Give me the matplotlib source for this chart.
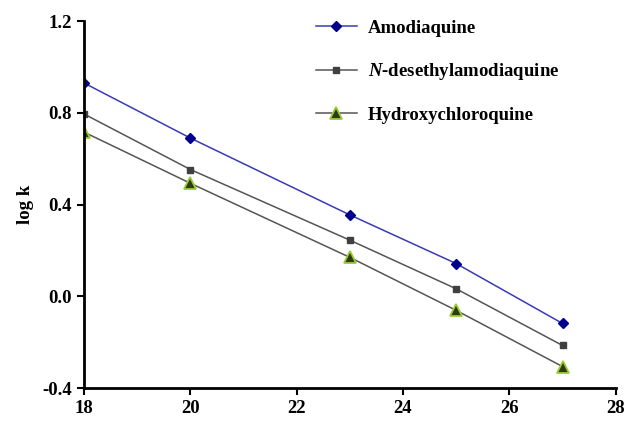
import numpy as np
import matplotlib.pyplot as plt

plt.rcParams['font.family'] = ['Liberation Serif', 'DejaVu Serif']
plt.rcParams['font.weight'] = 'bold'
plt.rcParams['mathtext.fontset'] = 'custom'
plt.rcParams['mathtext.it'] = 'Liberation Serif:italic:bold'
plt.rcParams['mathtext.rm'] = 'Liberation Serif:bold'

## data
temp = [18, 20, 23, 25, 27]
amodiaquine = [0.93, 0.69, 0.355, 0.143, -0.118]
desethyl = [0.795, 0.553, 0.245, 0.033, -0.214]
hydroxy = [0.716, 0.493, 0.17, -0.061, -0.306]

labels = ["Amodiaquine", r"$\it{N}$-desethylamodiaquine", "Hydroxychloroquine"]

fig = plt.figure(figsize=(6.27, 4.21), dpi=100)
ax = fig.add_axes([0.134, 0.078, 0.848, 0.872])

ax.plot(temp, amodiaquine, color="#3a3ab8", lw=1.1, marker="D", ms=5,
        mfc="#00008b", mec="#00008b", label=labels[0])
ax.plot(temp, desethyl, color="#555555", lw=1.1, marker="s", ms=5,
        mfc="#404040", mec="#404040", label=labels[1])
ax.plot(temp, hydroxy, color="#555555", lw=1.1, marker="^", ms=8,
        mfc="#2f3a1a", mec="#9acd32", mew=1.3, label=labels[2])

ax.set_xlim(18, 28)
ax.set_ylim(-0.4, 1.2)
ax.set_xticks([18, 20, 22, 24, 26, 28])
ax.set_yticks([-0.4, 0.0, 0.4, 0.8, 1.2])
ax.set_yticklabels(["-0.4", "0.0", "0.4", "0.8", "1.2"])
ax.tick_params(labelsize=13.5, width=1.5, length=5, direction="out")
for lab in ax.get_xticklabels() + ax.get_yticklabels():
    lab.set_fontweight("bold")

ax.spines["top"].set_visible(False)
ax.spines["right"].set_visible(False)
ax.spines["left"].set_linewidth(2)
ax.spines["bottom"].set_linewidth(2)

ax.set_ylabel("log k", fontsize=13.5, fontweight="bold", labelpad=6)

leg = ax.legend(loc="upper left", bbox_to_anchor=(0.404, 1.05), frameon=False,
                labelspacing=1.3, handlelength=2.2, handletextpad=0.6,
                prop={'weight': 'bold', 'size': 13.5})

plt.savefig("out.png", dpi=100)
